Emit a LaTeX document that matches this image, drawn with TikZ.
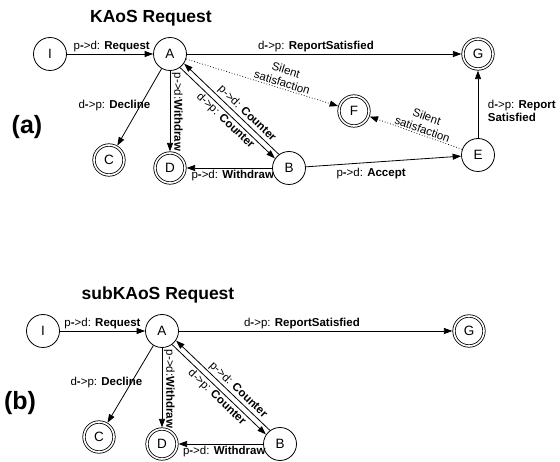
\documentclass[tikz,border=0pt]{standalone}
\usepackage{fontspec}
\setmainfont{Liberation Sans}
\usetikzlibrary{arrows.meta}

\newcommand{\ptod}{p\textbf{-}>d:}
\newcommand{\dtop}{d\textbf{-}>p:}

\begin{document}
\begin{tikzpicture}[x=1pt,y=-1pt,
  state/.style={circle,draw,line width=0.8pt,minimum size=33pt,inner sep=0pt,font=\fontsize{13.5}{15}\selectfont},
  final/.style={state,minimum size=30pt,double,double distance=1.6pt,outer sep=1.6pt},
  trans/.style={-{Triangle[length=8.5pt,width=6pt]},line width=0.8pt},
  silent/.style={trans,dotted,line width=0.7pt},
  lbl/.style={font=\fontsize{11.5}{13}\selectfont,inner sep=1.5pt},
  title/.style={font=\fontsize{17.5}{20}\selectfont\bfseries,anchor=base},
  tag/.style={font=\fontsize{25}{28}\selectfont\bfseries}]
  \useasboundingbox (0,0) rectangle (560,462);

  % (a) KAoS
  \node[title] (ta) at (151,23) {KAoS Request};
  \node[tag] (la) at (27,127) {(a)};
  \node[state] (I1) at (50,54) {I};
  \node[state] (A1) at (170,54) {A};
  \node[final] (G1) at (478,54) {G};
  \node[final] (F1) at (354,111) {F};
  \node[state] (E1) at (478,155) {E};
  \node[state] (B1) at (289,168) {B};
  \node[final] (D1) at (170,168) {D};
  \node[final] (C1) at (109,160) {C};

  \draw[trans] (I1) -- (A1) node[lbl,pos=.52,above] {\ptod{} \textbf{Request}};
  \draw[trans] (A1) -- (G1) node[lbl,pos=.47,above] {\dtop{} \textbf{ReportSatisfied}};
  \draw[trans] (A1) -- (C1) node[lbl,midway,xshift=-25pt,yshift=2pt] {\dtop{} \textbf{Decline}};
  \draw[trans] (A1) -- (D1) node[lbl,pos=0,rotate=-90,anchor=south west] {p->d:\textbf{Withdraw}};
  \draw[trans,transform canvas={xshift=2pt,yshift=2pt}] (B1) -- (A1)
    node[lbl,pos=.39,sloped,above] {p->d: \textbf{Counter}};
  \draw[trans,transform canvas={xshift=-2pt,yshift=-2pt}] (A1) -- (B1)
    node[lbl,pos=.53,sloped,below] {d->p: \textbf{Counter}};
  \draw[trans] (B1) -- (D1) node[lbl,pos=.46,below] {\ptod{} \textbf{Withdraw}};
  \draw[trans] (B1) -- (E1) node[lbl,pos=.42,below=4pt] {\ptod{} \textbf{Accept}};
  \draw[silent] (A1) -- (F1) node[lbl,pos=.62,sloped,above,align=center] {Silent\\satisfaction};
  \draw[silent] (E1) -- (F1) node[lbl,pos=.45,sloped,above,align=center] {Silent\\satisfaction};
  \draw[trans] (E1) -- (G1) node[lbl,pos=.4,right=8pt,align=left] {\dtop{} \textbf{Report}\\\textbf{Satisfied}};

  % (b) subKAoS
  \node[title] (tb) at (158,300) {subKAoS Request};
  \node[tag] (lb) at (20,403) {(b)};
  \node[state] (I2) at (43,331) {I};
  \node[state] (A2) at (162,331) {A};
  \node[final] (G2) at (469,331) {G};
  \node[state] (B2) at (280,444) {B};
  \node[final] (D2) at (162,444) {D};
  \node[final] (C2) at (99,437) {C};

  \draw[trans] (I2) -- (A2) node[lbl,midway,above] {\ptod{} \textbf{Request}};
  \draw[trans] (A2) -- (G2) node[lbl,pos=.45,above] {\dtop{} \textbf{ReportSatisfied}};
  \draw[trans] (A2) -- (C2) node[lbl,midway,xshift=-24pt,yshift=2pt] {\dtop{} \textbf{Decline}};
  \draw[trans] (A2) -- (D2) node[lbl,pos=0,rotate=-90,anchor=south west] {p->d:\textbf{Withdraw}};
  \draw[trans,transform canvas={xshift=2pt,yshift=2pt}] (B2) -- (A2)
    node[lbl,pos=.39,sloped,above] {p->d: \textbf{Counter}};
  \draw[trans,transform canvas={xshift=-2pt,yshift=-2pt}] (A2) -- (B2)
    node[lbl,pos=.53,sloped,below] {d->p: \textbf{Counter}};
  \draw[trans] (B2) -- (D2) node[lbl,pos=.46,below] {\ptod{} \textbf{Withdraw}};
\end{tikzpicture}
\end{document}
